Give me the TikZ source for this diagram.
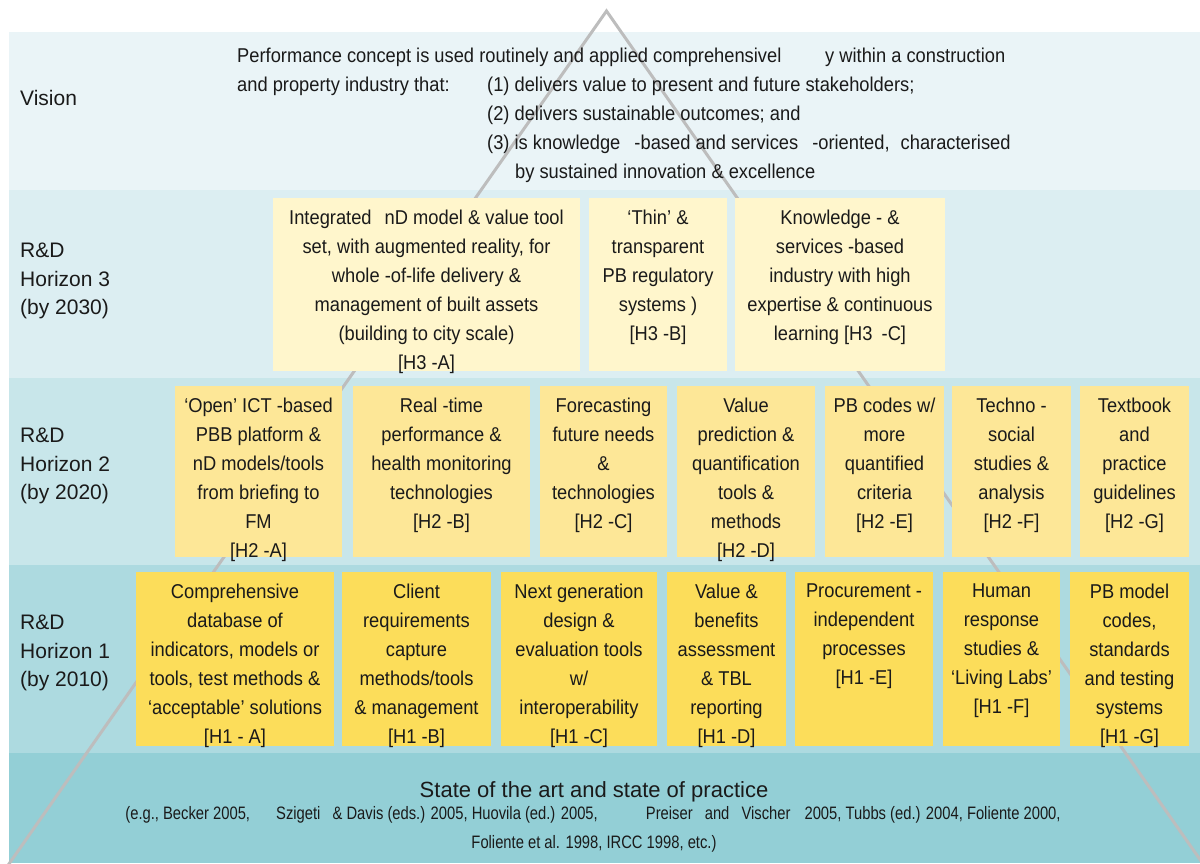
\documentclass[tikz,border=0pt]{standalone}
\usepackage{fontspec}
\setmainfont{Liberation Sans}
\newfontfamily\condfont{Liberation Sans}[FakeStretch=0.915]
\newfontfamily\reffont{Liberation Sans}[FakeStretch=0.82]

\definecolor{bandV}{HTML}{EAF4F7}
\definecolor{bandC}{HTML}{DCEEF2}
\definecolor{bandB}{HTML}{C8E6EA}
\definecolor{bandA}{HTML}{ADDAE0}
\definecolor{bandS}{HTML}{93CFD6}
\definecolor{boxC}{HTML}{FFF6CC}
\definecolor{boxB}{HTML}{FDE797}
\definecolor{boxA}{HTML}{FCDD5A}
\definecolor{pyr}{HTML}{BDBDBD}
\definecolor{ink}{HTML}{1A1A1A}

% one research box: name, fill, left, top, width, height, text
\newcommand\rdbox[7]{%
  \node[rdcell, fill=#2, minimum width=#5pt, minimum height=#6pt] (#1) at (#3,#4) {};
  \node[boxtext] (#1-t) at ([yshift=-12pt]#1.north) {#7};
}

\begin{document}
\begin{tikzpicture}[x=1pt, y=-1pt,
  rdcell/.style={draw=none, inner sep=0pt, outer sep=0pt, anchor=north west},
  boxtext/.style={align=center, inner sep=0pt, anchor=north, text=ink,
    font=\condfont\fontsize{20}{29}\selectfont},
  rowlabel/.style={align=left, inner sep=0pt, anchor=west, text=ink,
    font=\fontsize{21}{28.5}\selectfont},
  vistext/.style={inner sep=0pt, anchor=base west, text=ink,
    font=\condfont\fontsize{20}{29}\selectfont},
  reftext/.style={inner sep=0pt, anchor=base, text=ink,
    font=\reffont\fontsize{18}{29}\selectfont},
  pyramid/.style={draw=pyr, line width=3pt, line join=miter}]

\useasboundingbox (0,0) rectangle (1200,863);

% horizontal bands
\fill[bandV] (9,32) rectangle (1200,189.5);
\fill[bandC] (9,189.5) rectangle (1200,378);
\fill[bandB] (9,378) rectangle (1200,565);
\fill[bandA] (9,565) rectangle (1200,753);
\fill[bandS] (9,753) rectangle (1200,863);

% pyramid outline
\begin{scope}
  \clip (0,0) rectangle (1200,863);
  \draw[pyramid] (2.6,873) -- (606.5,11) -- (1209.4,873);
\end{scope}

% row labels
\node[rowlabel] (lv) at (20,98) {Vision};
\node[rowlabel] (l3) at (20,281) {R\&D\\Horizon 3\\(by 2030)};
\node[rowlabel] (l2) at (20,466) {R\&D\\Horizon 2\\(by 2020)};
\node[rowlabel] (l1) at (20,653) {R\&D\\Horizon 1\\(by 2010)};

% vision statement
\node[vistext] (v1a) at (237,62) {Performance concept is used routinely and applied comprehensivel};
\node[vistext] (v1b) at (825,62) {y within a construction};
\node[vistext] (v2a) at (237,91) {and property industry that:};
\node[vistext] (v2b) at (487,91) {(1) delivers value to present and future stakeholders;};
\node[vistext] (v3) at (487,120) {(2) delivers sustainable outcomes; and};
\node[vistext] (v4) at (487,149) {(3) is knowledge\hspace{9pt} -based and services\hspace{9pt} -oriented,\hspace{6pt} characterised};
\node[vistext] (v5) at (515,178) {by sustained innovation \& excellence};

% Horizon 3
\rdbox{h3a}{boxC}{273}{197.5}{307}{173.5}{Integrated\hspace{8pt} nD model \& value tool\\set, with augmented reality, for\\whole -of-life delivery \&\\management of built assets\\(building to city scale)\\{}[H3 -A]}
\rdbox{h3b}{boxC}{589}{197.5}{138}{173.5}{‘Thin’ \&\\transparent\\PB regulatory\\systems )\\{}[H3 -B]}
\rdbox{h3c}{boxC}{735}{197.5}{210}{173.5}{Knowledge - \&\\services -based\\industry with high\\expertise \& continuous\\learning [H3\hspace{4pt} -C]}

% Horizon 2
\rdbox{h2a}{boxB}{175}{385.5}{167}{171.5}{‘Open’ ICT -based\\PBB platform \&\\nD models/tools\\from briefing to\\FM\\{}[H2 -A]}
\rdbox{h2b}{boxB}{353}{385.5}{177}{171.5}{Real -time\\performance \&\\health monitoring\\technologies\\{}[H2 -B]}
\rdbox{h2c}{boxB}{540}{385.5}{127}{171.5}{Forecasting\\future needs\\\&\\technologies\\{}[H2 -C]}
\rdbox{h2d}{boxB}{677}{385.5}{138}{171.5}{Value\\prediction \&\\quantification\\tools \&\\methods\\{}[H2 -D]}
\rdbox{h2e}{boxB}{825}{385.5}{119}{171.5}{PB codes w/\\more\\quantified\\criteria\\{}[H2 -E]}
\rdbox{h2f}{boxB}{952}{385.5}{119}{171.5}{Techno -\\social\\studies \&\\analysis\\{}[H2 -F]}
\rdbox{h2g}{boxB}{1080}{385.5}{109}{171.5}{Textbook\\and\\practice\\guidelines\\{}[H2 -G]}

% Horizon 1
\rdbox{h1a}{boxA}{136}{572}{198}{174}{Comprehensive\\database of\\indicators, models or\\tools, test methods \&\\‘acceptable’ solutions\\{}[H1 - A]}
\rdbox{h1b}{boxA}{342}{572}{149}{174}{Client\\requirements\\capture\\methods/tools\\\& management\\{}[H1 -B]}
\rdbox{h1c}{boxA}{501}{572}{156}{174}{Next generation\\design \&\\evaluation tools\\w/\\interoperability\\{}[H1 -C]}
\rdbox{h1d}{boxA}{667}{572}{119}{174}{Value \&\\benefits\\assessment\\\& TBL\\reporting\\{}[H1 -D]}
\rdbox{h1e}{boxA}{795}{572}{138}{174}{Procurement -\\independent\\processes\\{}[H1 -E]}
\rdbox{h1f}{boxA}{943}{572}{117}{174}{Human\\response\\studies \&\\‘Living Labs’\\{}[H1 -F]}
\rdbox{h1g}{boxA}{1070}{572}{119}{174}{PB model\\codes,\\standards\\and testing\\systems\\{}[H1 -G]}

% base of the pyramid
\node[inner sep=0pt, anchor=base, text=ink, font=\fontsize{22}{29}\selectfont] (sota) at (594,797) {State of the art and state of practice};
\node[reftext] (refs1) at (593,819)
  {(e.g., Becker 2005,\hspace{22pt} Szigeti\hspace{8pt} \& Davis (eds.) 2005, Huovila (ed.) 2005,\hspace{44pt} Preiser\hspace{8pt} and\hspace{8pt} Vischer\hspace{10pt} 2005, Tubbs (ed.) 2004, Foliente 2000,};
\node[reftext] (refs2) at (594,848) {Foliente et al. 1998, IRCC 1998, etc.)};

\end{tikzpicture}
\end{document}
